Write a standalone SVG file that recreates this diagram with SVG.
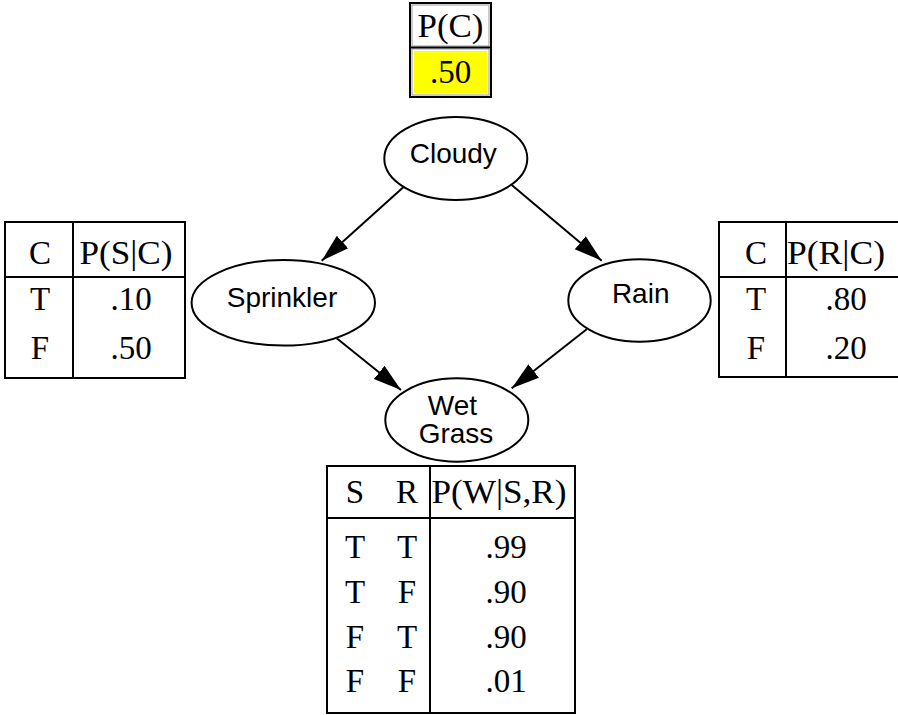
<svg xmlns="http://www.w3.org/2000/svg" width="898" height="715" viewBox="0 0 898 715">
<style>
.node ellipse{fill:#fff;stroke:#000;stroke-width:2}
.nl{font-family:"Liberation Sans",Arial,sans-serif;font-size:28px;text-anchor:middle;fill:#000}
.tb{fill:#fff;stroke:#000;stroke-width:2}
.ln{stroke:#000;stroke-width:2;fill:none}
.tt{font-family:"Liberation Serif","Times New Roman",serif;font-size:33px;text-anchor:middle;fill:#000}
.edge{stroke:#000;stroke-width:2;fill:none;marker-end:url(#ah)}
</style>
<defs>
<marker id="ah" markerUnits="userSpaceOnUse" markerWidth="30" markerHeight="20" refX="28" refY="10" orient="auto">
<path d="M0,1.5 L28,10 L0,18.5 z" fill="#000"/>
</marker>
</defs>
<rect width="898" height="715" fill="#fff"/>

<g id="cpt-cloudy">
<rect class="tb" x="410" y="3" width="81" height="94"/>
<rect x="412" y="5" width="77" height="41" fill="none" stroke="#999" stroke-width="1"/>
<rect x="412" y="49" width="77" height="46" fill="none" stroke="#999" stroke-width="1"/>
<rect x="414" y="51" width="73" height="42" fill="#ffff00"/>
<line class="ln" x1="410" y1="47.5" x2="491" y2="47.5"/>
<text class="tt" x="450.5" y="37" textLength="66" lengthAdjust="spacingAndGlyphs">P(C)</text>
<text class="tt" x="450.5" y="83">.50</text>
</g>

<g id="cpt-sprinkler">
<rect class="tb" x="5" y="222" width="180" height="156"/>
<line class="ln" x1="73" y1="222" x2="73" y2="378"/>
<line class="ln" x1="5" y1="277" x2="185" y2="277"/>
<text class="tt" x="40" y="264">C</text>
<text class="tt" x="126" y="264" textLength="93" lengthAdjust="spacingAndGlyphs">P(S|C)</text>
<text class="tt" x="40" y="310">T</text>
<text class="tt" x="131" y="310">.10</text>
<text class="tt" x="40" y="359">F</text>
<text class="tt" x="131" y="359">.50</text>
</g>

<g id="cpt-rain">
<rect class="tb" x="719" y="222" width="192" height="155"/>
<line class="ln" x1="786" y1="222" x2="786" y2="377"/>
<line class="ln" x1="719" y1="277" x2="911" y2="277"/>
<text class="tt" x="756" y="264">C</text>
<text class="tt" x="787" y="264" style="text-anchor:start" textLength="98" lengthAdjust="spacingAndGlyphs">P(R|C)</text>
<text class="tt" x="756" y="310">T</text>
<text class="tt" x="846" y="310">.80</text>
<text class="tt" x="756" y="359">F</text>
<text class="tt" x="846" y="359">.20</text>
</g>

<g id="cpt-wetgrass">
<rect class="tb" x="327" y="466" width="248" height="247"/>
<line class="ln" x1="430" y1="466" x2="430" y2="713"/>
<line class="ln" x1="327" y1="518" x2="575" y2="518"/>
<text class="tt" x="355" y="503">S</text>
<text class="tt" x="407" y="503">R</text>
<text class="tt" x="499" y="503" textLength="135" lengthAdjust="spacingAndGlyphs">P(W|S,R)</text>
<text class="tt" x="355" y="558">T</text><text class="tt" x="407" y="558">T</text><text class="tt" x="506" y="558">.99</text>
<text class="tt" x="355" y="603">T</text><text class="tt" x="407" y="603">F</text><text class="tt" x="506" y="603">.90</text>
<text class="tt" x="355" y="648">F</text><text class="tt" x="407" y="648">T</text><text class="tt" x="506" y="648">.90</text>
<text class="tt" x="355" y="692">F</text><text class="tt" x="407" y="692">F</text><text class="tt" x="506" y="692">.01</text>
</g>

<g id="connectors">
<line class="edge" x1="403.3" y1="187.3" x2="321.7" y2="260.7"/>
<line class="edge" x1="511.7" y1="185" x2="601.7" y2="260.7"/>
<line class="edge" x1="336.7" y1="338.3" x2="401" y2="390"/>
<line class="edge" x1="586.7" y1="329.3" x2="511.7" y2="388.3"/>
</g>

<g id="node-cloudy" class="node">
<ellipse cx="455.8" cy="158.5" rx="71.5" ry="41.5"/>
<text class="nl" x="453.3" y="163.3">Cloudy</text>
</g>
<g id="node-sprinkler" class="node">
<ellipse cx="283.3" cy="302.8" rx="91.7" ry="42.8"/>
<text class="nl" x="282" y="306.7">Sprinkler</text>
</g>
<g id="node-rain" class="node">
<ellipse cx="639.5" cy="300.5" rx="71.2" ry="41.2"/>
<text class="nl" x="640.7" y="303.3">Rain</text>
</g>
<g id="node-wetgrass" class="node">
<ellipse cx="456.8" cy="420" rx="71.5" ry="41.7"/>
<text class="nl" x="452.4" y="415">Wet</text>
<text class="nl" x="456" y="443.3">Grass</text>
</g>
</svg>
